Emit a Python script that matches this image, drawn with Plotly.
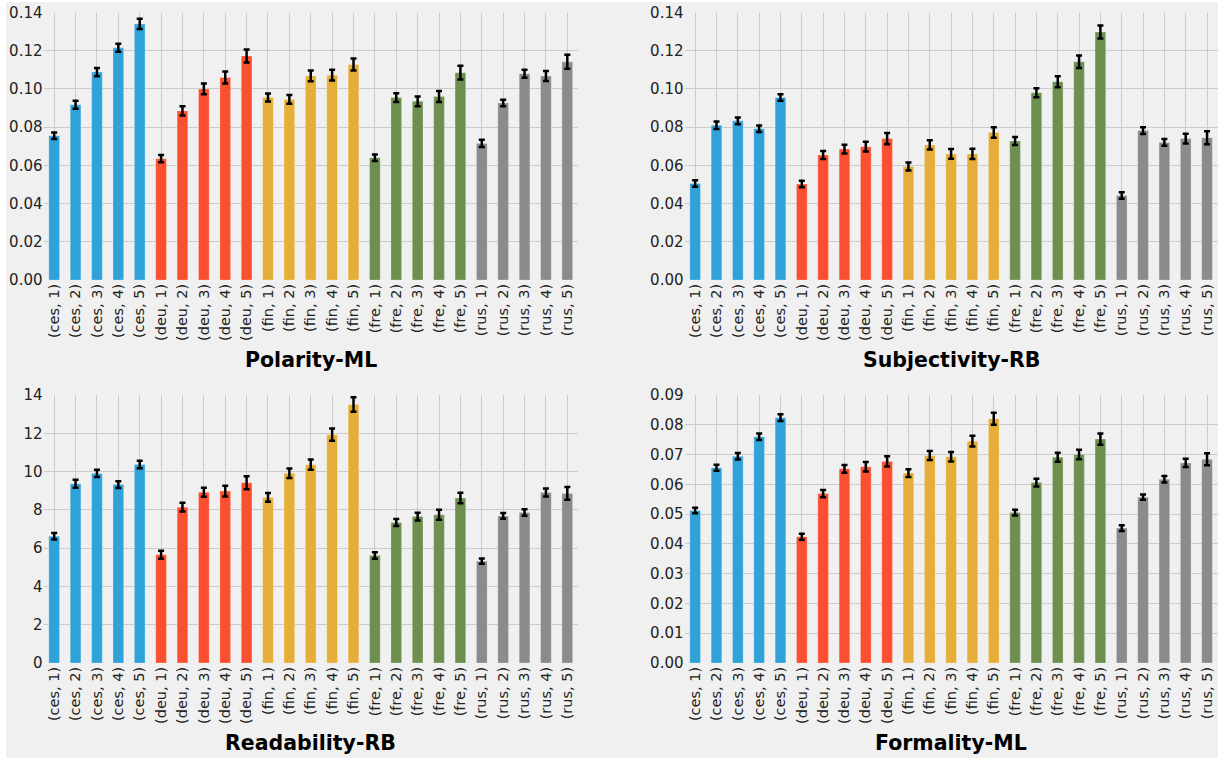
import plotly.graph_objects as go

W, H = 1218, 758

categories = [f"({lang}, {lvl})" for lang in ["ces", "deu", "fin", "fre", "rus"] for lvl in [1, 2, 3, 4, 5]]
group_colors = ["#30a2da"] * 5 + ["#fc4f30"] * 5 + ["#e5ae38"] * 5 + ["#6d904f"] * 5 + ["#8b8b8b"] * 5

polarity = [0.0755, 0.0917, 0.1088, 0.1215, 0.1340,
            0.0635, 0.0885, 0.1000, 0.1060, 0.1172,
            0.0955, 0.0945, 0.1068, 0.1072, 0.1128,
            0.0640, 0.0955, 0.0935, 0.0960, 0.1085,
            0.0715, 0.0926, 0.1080, 0.1068, 0.1142]
polarity_err = [0.0017, 0.0021, 0.0022, 0.0021, 0.0027,
                0.0019, 0.0024, 0.0028, 0.0031, 0.0034,
                0.0021, 0.0023, 0.0028, 0.0028, 0.0031,
                0.0017, 0.0023, 0.0025, 0.0029, 0.0036,
                0.0019, 0.0017, 0.0021, 0.0026, 0.0037]

subjectivity = [0.0505, 0.0810, 0.0833, 0.0792, 0.0955,
                0.0502, 0.0654, 0.0685, 0.0698, 0.0740,
                0.0594, 0.0707, 0.0660, 0.0660, 0.0772,
                0.0727, 0.0980, 0.1038, 0.1142, 0.1298,
                0.0442, 0.0782, 0.0720, 0.0740, 0.0745]
subjectivity_err = [0.0017, 0.0020, 0.0018, 0.0017, 0.0017,
                    0.0017, 0.0021, 0.0023, 0.0025, 0.0029,
                    0.0021, 0.0024, 0.0025, 0.0027, 0.0027,
                    0.0021, 0.0024, 0.0029, 0.0033, 0.0034,
                    0.0017, 0.0018, 0.0018, 0.0025, 0.0034]

readability = [6.62, 9.36, 9.90, 9.32, 10.37,
               5.66, 8.14, 8.92, 8.98, 9.41,
               8.65, 9.91, 10.36, 11.93, 13.50,
               5.62, 7.34, 7.65, 7.74, 8.62,
               5.32, 7.68, 7.86, 8.91, 8.86]
readability_err = [0.17, 0.21, 0.19, 0.18, 0.19,
                   0.21, 0.23, 0.23, 0.28, 0.34,
                   0.23, 0.25, 0.27, 0.32, 0.38,
                   0.17, 0.18, 0.20, 0.26, 0.27,
                   0.14, 0.15, 0.17, 0.21, 0.33]

formality = [0.0512, 0.0656, 0.0694, 0.0760, 0.0824,
             0.0424, 0.0569, 0.0652, 0.0659, 0.0677,
             0.0638, 0.0697, 0.0693, 0.0745, 0.0820,
             0.0505, 0.0606, 0.0691, 0.0700, 0.0752,
             0.0453, 0.0557, 0.0617, 0.0672, 0.0684]
formality_err = [0.0009, 0.0010, 0.0011, 0.0011, 0.0011,
                 0.0010, 0.0012, 0.0013, 0.0016, 0.0017,
                 0.0013, 0.0015, 0.0016, 0.0018, 0.0020,
                 0.0010, 0.0013, 0.0015, 0.0016, 0.0019,
                 0.0010, 0.0009, 0.0011, 0.0014, 0.0020]

panels = [
    ("Polarity-ML", polarity, polarity_err, [0, 0.14], 0.02, ".2f"),
    ("Subjectivity-RB", subjectivity, subjectivity_err, [0, 0.14], 0.02, ".2f"),
    ("Readability-RB", readability, readability_err, [0, 14], 2, "d"),
    ("Formality-ML", formality, formality_err, [0, 0.09], 0.01, ".2f"),
]

# pixel layout
x_doms = [(43.5, 578.0), (684.5, 1217.7)]
y_doms = [(12.5, 280.0), (395.0, 663.0)]
title_y = [360.0, 743.0]

fig = go.Figure()
FONT = "DejaVu Sans"
annotations = []

for i, (title, vals, errs, yr, dt, fmt) in enumerate(panels):
    r, c = divmod(i, 2)
    xa = "x" if i == 0 else f"x{i+1}"
    ya = "y" if i == 0 else f"y{i+1}"
    fig.add_trace(go.Bar(
        x=categories, y=vals,
        marker=dict(color=group_colors, line=dict(color="rgba(255,255,255,0.25)", width=1)),
        width=0.5,
        error_y=dict(type="data", array=errs, visible=True, color="black", thickness=2.5, width=3),
        xaxis=xa, yaxis=ya, showlegend=False, hoverinfo="skip",
    ))
    x0, x1 = x_doms[c]
    y0, y1 = y_doms[r]
    axkey = "xaxis" if i == 0 else f"xaxis{i+1}"
    aykey = "yaxis" if i == 0 else f"yaxis{i+1}"
    fig.update_layout(**{
        axkey: dict(
            domain=[x0 / W, x1 / W], anchor=ya, type="category", automargin=False,
            categoryorder="array", categoryarray=categories,
            range=[-0.5, 24.5], tickangle=-90, showgrid=True, gridcolor="#cbcbcb", gridwidth=1,
            tickfont=dict(family=FONT, size=14.5, color="#222222"), ticks="", zeroline=False,
            showline=False,
        ),
        aykey: dict(
            domain=[1 - y1 / H, 1 - y0 / H], anchor=xa, range=yr, dtick=dt, tick0=0, automargin=False,
            tickformat=fmt, showgrid=True, gridcolor="#cbcbcb", gridwidth=1,
            tickfont=dict(family=FONT, size=15, color="#222222"), ticks="", zeroline=False,
            showline=False,
        ),
    })
    annotations.append(dict(
        text=f"<b>{title}</b>", x=(x0 + x1) / 2 / W, y=1 - title_y[r] / H,
        xref="paper", yref="paper", xanchor="center", yanchor="middle", showarrow=False,
        font=dict(family=FONT, size=20.5, color="#000000"),
    ))

fig.update_layout(
    width=W, height=H, autosize=False,
    margin=dict(l=0, r=0, t=0, b=0, pad=0, autoexpand=False),
    paper_bgcolor="white",
    plot_bgcolor="#f0f0f0",
    annotations=annotations,
    bargap=0.5,
    shapes=[dict(type="rect", xref="paper", yref="paper", x0=6 / W, x1=1, y0=0, y1=1 - 2 / H,
                 fillcolor="#f0f0f0", line=dict(width=0), layer="below")],
)

post = (
    "document.documentElement.style.margin='0px';"
    "document.documentElement.style.padding='0px';"
    "document.documentElement.style.overflow='hidden';"
    "document.body.style.margin='0px';"
    "document.body.style.padding='0px';"
    "document.body.style.overflow='hidden';"
    "var d=document.getElementsByClassName('plotly-graph-div')[0];"
    "if(d){d.style.position='fixed';d.style.top='0px';d.style.left='0px';}"
)

fig.write_html(
    "out.html",
    config={"displayModeBar": False, "responsive": False},
    post_script=post,
)
